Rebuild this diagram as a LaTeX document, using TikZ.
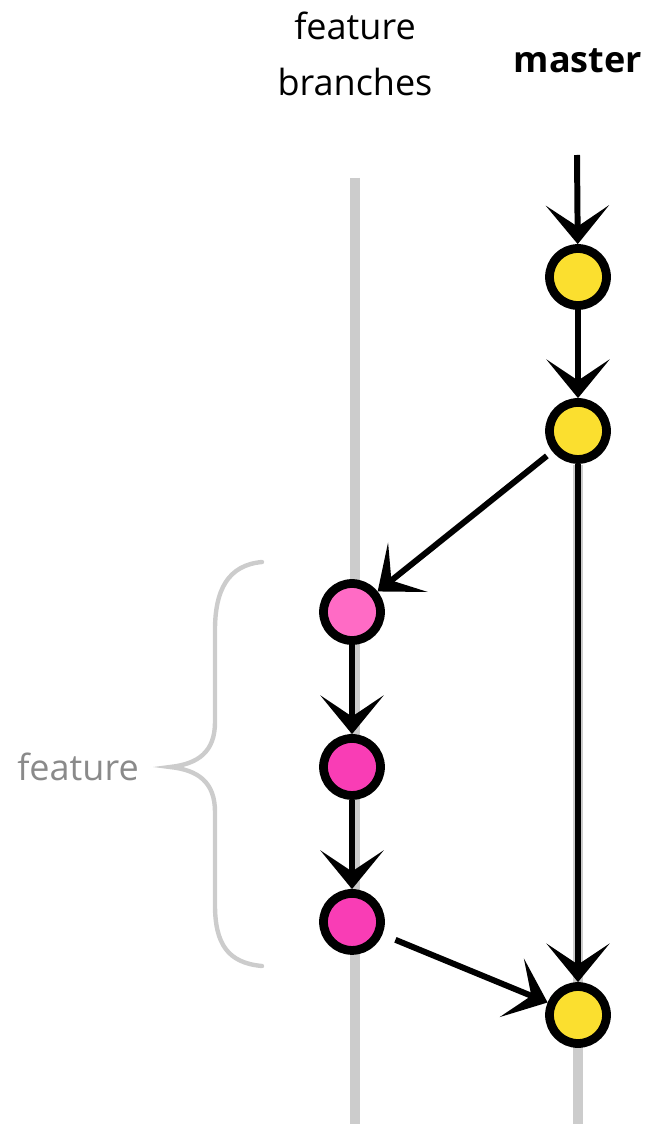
\documentclass[tikz,border=0pt]{standalone}
\usepackage{fontspec}
\setmainfont{Open Sans}
\usetikzlibrary{arrows.meta,positioning}
\definecolor{commityellow}{HTML}{FBDF2F}
\definecolor{newpink}{HTML}{FF6BC5}
\definecolor{commitpink}{HTML}{F93DB5}
\definecolor{branchgray}{HTML}{CCCCCC}
\definecolor{textgray}{HTML}{8A8A8A}
\tikzstyle{commit} = [circle, draw=black, line width=5pt, minimum size=1.14cm, inner sep=0pt]
\tikzstyle{master commit} = [commit, fill=commityellow]
\tikzstyle{feature commit} = [commit, fill=commitpink]
\tikzstyle{heading} = [font=\fontsize{20.5}{32}\selectfont, align=center]
\tikzstyle{line} = [draw, line width=3.4pt, -{Stealth[length=22pt, width=36pt, inset=12pt]}]
\tikzstyle{branch} = [draw, line width=5.5pt, branchgray]
\tikzstyle{brace} = [draw, line width=2.5pt, branchgray, line cap=round]

\begin{document}
\begin{tikzpicture}[x=0.02cm, y=-0.02cm, node distance=3.1cm]
    \useasboundingbox (0,0) rectangle (646,1128);
    % Headings
    \node [heading] (fb) at (355,54) {feature\\branches};
    \node [heading, font=\fontsize{20.5}{32}\selectfont\bfseries] (master) at (578,61) {master};
    % Branch lines
    \coordinate (ftop) at (355,178);
    \coordinate (fend) at (355,1124);
    \coordinate (mtop) at (578,465);
    \coordinate (mend) at (578,1124);
    \path [branch] (ftop) -- (fend);
    \path [branch] (mtop) -- (mend);
    % Place nodes
    \coordinate (mstart) at (577,155);
    \node [master commit] (m1) at (578,277) {};
    \node [master commit, below of=m1, node distance=3.08cm] (m2) {};
    \node [feature commit, fill=newpink] (f1) at (352,612) {};
    \node [feature commit, below of=f1] (f2) {};
    \node [feature commit, below of=f2] (f3) {};
    \node [master commit] (m3) at (578,1015) {};
    % Brace
    \node [heading, text=textgray] (flabel) at (78,767) {feature};
    \coordinate (btop) at (262,562);
    \coordinate (bbottom) at (262,966);
    \path [brace] (btop) .. controls (228,565) and (215,590) .. (215,630)
        -- (215,722) .. controls (215,752) and (198,764) .. (170,767)
        .. controls (198,770) and (215,782) .. (215,812)
        -- (215,905) .. controls (215,944) and (228,963) .. (bbottom);
    % Draw edges
    \path [line] (mstart) -- (m1);
    \path [line] (m1) -- (m2);
    \path [line, shorten <=4pt] (m2) -- (f1);
    \path [line] (f1) -- (f2);
    \path [line] (f2) -- (f3);
    \path [line, shorten <=8pt] (f3) -- (m3);
    \path [line] (m2) -- (m3);
\end{tikzpicture}
\end{document}
